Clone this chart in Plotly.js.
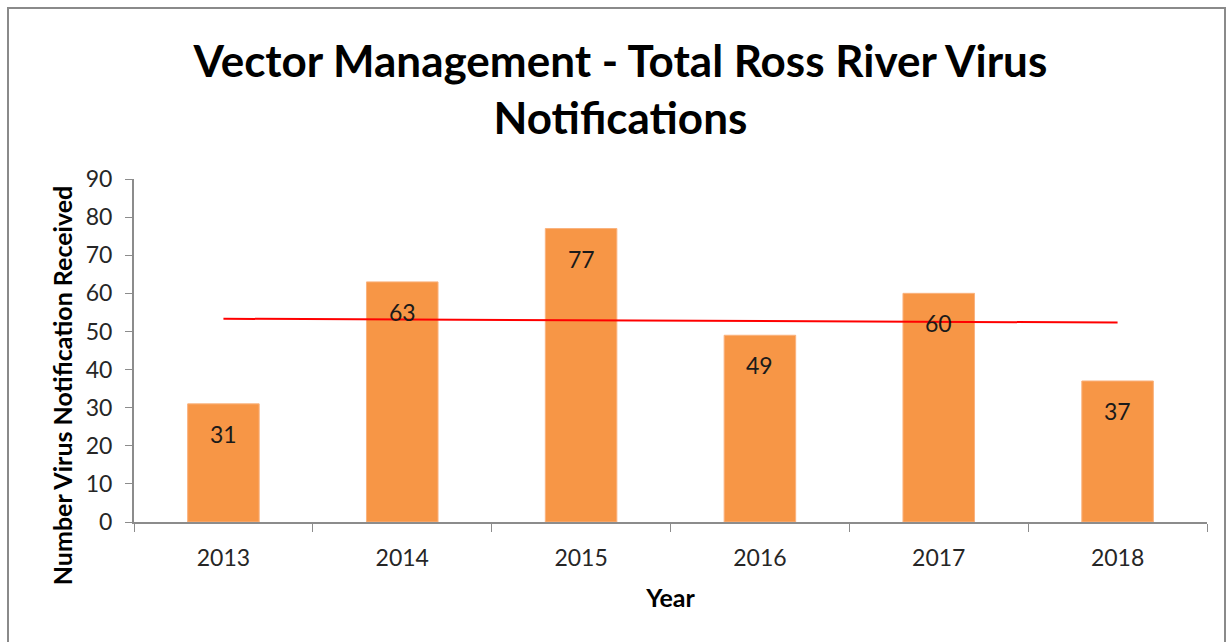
<!DOCTYPE html>
<html>
<head>
<meta charset="utf-8">
<script src="https://cdn.plot.ly/plotly-3.0.1.min.js"></script>
<style>
  html, body { margin: 0; padding: 0; background: #fff; }
  #chart { width: 1231px; height: 642px; }
  #frame { position: absolute; left: 7px; top: 7px; width: 1219px; height: 638px;
           border: 2px solid #8a8a8a; box-sizing: border-box; pointer-events: none; }
</style>
</head>
<body>
<div id="chart"></div>
<div id="frame"></div>
<script>
const years = ["2013", "2014", "2015", "2016", "2017", "2018"];
const notifications = [31, 63, 77, 49, 60, 37];
const yTickValues = [0, 10, 20, 30, 40, 50, 60, 70, 80, 90];

// Linear trend line (least squares) computed from the notification values
const n = notifications.length;
const idx = notifications.map((_, i) => i);
const mx = idx.reduce((a, b) => a + b, 0) / n;
const my = notifications.reduce((a, b) => a + b, 0) / n;
let sxy = 0, sxx = 0;
idx.forEach((x, i) => { sxy += (x - mx) * (notifications[i] - my); sxx += (x - mx) * (x - mx); });
const slope = sxy / sxx;
const intercept = my - slope * mx;
const trend = idx.map(x => intercept + slope * x);

const FONT = "Lato, 'Open Sans', sans-serif";

const bars = {
  type: "bar",
  x: years,
  y: notifications,
  width: 0.4,
  marker: { color: "#F79646", line: { color: "#FAB27E", width: 1 } },
  hoverinfo: "x+y",
  showlegend: false
};

const trendLine = {
  type: "scatter",
  mode: "lines",
  x: years,
  y: trend,
  line: { color: "#FF0000", width: 2 },
  hoverinfo: "skip",
  showlegend: false
};

// annotation x on a category axis uses the category serial number
const labels = years.map((yr, i) => ({
  x: i, y: notifications[i], xref: "x", yref: "y",
  text: String(notifications[i]), showarrow: false,
  yanchor: "top", yshift: -14,
  font: { family: FONT, size: 23, color: "#1a1a1a" }
}));

const yTitle = {
  text: "<b>Number Virus Notification Received</b>",
  xref: "paper", yref: "paper",
  x: 0, xshift: -72, xanchor: "center",
  y: 0.396, yanchor: "middle",
  textangle: -90, showarrow: false,
  font: { family: FONT, size: 25, color: "#000" }
};

const layout = {
  width: 1231,
  height: 642,
  paper_bgcolor: "#ffffff",
  plot_bgcolor: "#ffffff",
  margin: { l: 134, r: 24, t: 179, b: 120 },
  title: {
    text: "<b>Vector Management - Total Ross River Virus<br>Notifications</b>",
    font: { family: FONT, size: 44, color: "#000000" },
    xref: "container", x: 0.504, xanchor: "center",
    yref: "container", y: 0.88, yanchor: "top"
  },
  xaxis: {
    type: "category",
    categoryarray: years,
    range: [-0.5, 5.5],
    tickson: "boundaries",
    ticks: "outside",
    ticklen: 8,
    tickcolor: "#8c8c8c",
    tickangle: 0,
    ticklabelstandoff: 14,
    showline: true,
    linecolor: "#8c8c8c",
    linewidth: 2,
    showgrid: false,
    tickfont: { family: FONT, size: 23, color: "#262626" },
    title: { text: "<b>Year</b>", font: { family: FONT, size: 25, color: "#000" }, standoff: 20 }
  },
  yaxis: {
    range: [0, 90],
    tickvals: yTickValues,
    ticks: "outside",
    ticklen: 7,
    tickcolor: "#8c8c8c",
    ticklabelstandoff: 8,
    showline: true,
    linecolor: "#8c8c8c",
    linewidth: 2,
    showgrid: false,
    zeroline: false,
    tickfont: { family: FONT, size: 23, color: "#262626" }
  },
  bargap: 0.6,
  annotations: labels.concat([yTitle])
};

Plotly.newPlot("chart", [bars, trendLine], layout, { displayModeBar: false, staticPlot: true });
</script>
</body>
</html>
